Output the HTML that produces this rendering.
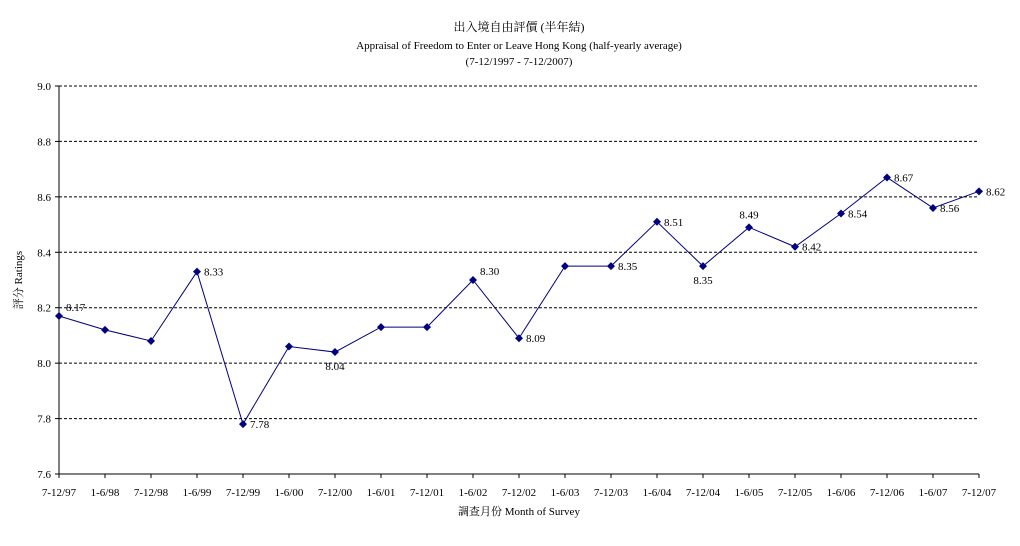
<!DOCTYPE html>
<html><head><meta charset="utf-8"><style>
body{margin:0;background:#fff;}
svg{display:block;font-family:"Liberation Serif","Noto Serif CJK SC","Noto Sans CJK TC",serif;}
</style></head><body>
<svg id="chart" width="1020" height="546" viewBox="0 0 1020 546">
<text x="519" y="31" font-size="12" text-anchor="middle">出入境自由評價 (半年結)</text>
<text x="519" y="49" font-size="11" text-anchor="middle">Appraisal of Freedom to Enter or Leave Hong Kong (half-yearly average)</text>
<text x="519" y="65" font-size="11" text-anchor="middle">(7-12/1997 - 7-12/2007)</text>
<text transform="translate(22,280) rotate(-90)" font-size="11" text-anchor="middle">評分 Ratings</text>
<text x="519" y="515" font-size="11" text-anchor="middle">調查月份 Month of Survey</text>
<g id="grid"></g><g id="axes"></g><g id="series"></g>
</svg>
<script>
const categories=["7-12/97","1-6/98","7-12/98","1-6/99","7-12/99","1-6/00","7-12/00","1-6/01","7-12/01","1-6/02","7-12/02","1-6/03","7-12/03","1-6/04","7-12/04","1-6/05","7-12/05","1-6/06","7-12/06","1-6/07","7-12/07"];
const ratings=[8.17,8.12,8.08,8.33,7.78,8.06,8.04,8.13,8.13,8.30,8.09,8.35,8.35,8.51,8.35,8.49,8.42,8.54,8.67,8.56,8.62];
const pointLabels=["8.17",null,null,"8.33","7.78",null,"8.04",null,null,"8.30","8.09",null,"8.35","8.51","8.35","8.49","8.42","8.54","8.67","8.56","8.62"];
const labelSide=["tr",null,null,"r","r",null,"b",null,null,"tr","r",null,"r","r","b","t","r","r","r","r","r"];
const yTicks=[7.6,7.8,8.0,8.2,8.4,8.6,8.8,9.0];
const NS="http://www.w3.org/2000/svg";
const L=59,R=979,T=86,B=474,yMin=7.6,yMax=9.0;
const x=i=>L+i*(R-L)/(categories.length-1);
const y=v=>B-(v-yMin)/(yMax-yMin)*(B-T);
function mk(tag,attrs,parent,txt){const e=document.createElementNS(NS,tag);for(const k in attrs)e.setAttribute(k,attrs[k]);if(txt!=null)e.textContent=txt;parent.appendChild(e);return e;}
const grid=document.getElementById('grid'),axes=document.getElementById('axes'),ser=document.getElementById('series');
yTicks.forEach(t=>{
 if(t>yMin){const g=mk('line',{x1:L,x2:R,y1:y(t),y2:y(t),stroke:'#000','stroke-dasharray':'3,2','stroke-width':1},grid);
 
 }
 const tl=mk('text',{x:L-8,y:y(t)+4,'font-size':11,'text-anchor':'end'},axes,t.toFixed(1));
 
 
 mk('line',{x1:L-4,x2:L,y1:y(t),y2:y(t),stroke:'#000'},axes);
});
const ya=mk('line',{x1:L,x2:L,y1:T,y2:B,stroke:'#000'},axes);


const xa=mk('line',{x1:L,x2:R,y1:B,y2:B,stroke:'#000'},axes);


categories.forEach((c,i)=>{
 mk('line',{x1:x(i),x2:x(i),y1:B,y2:B+4,stroke:'#000'},axes);
 const t=mk('text',{x:x(i),y:B+22,'font-size':11,'text-anchor':'middle'},axes,c);
 
 
});
const pl=mk('polyline',{points:ratings.map((v,i)=>x(i)+','+y(v)).join(' '),fill:'none',stroke:'#000080','stroke-width':1},ser);


ratings.forEach((v,i)=>{
 const px=x(i),py=y(v);
 const m=mk('polygon',{points:`${px},${py-4} ${px+4},${py} ${px},${py+4} ${px-4},${py}`,fill:'#000080'},ser);
 
 
 if(pointLabels[i]){
  const s=labelSide[i];let lx=px+7,ly=py+4,a='start';
  if(s==='b'){lx=px;ly=py+18;a='middle';}
  else if(s==='t'){lx=px;ly=py-9;a='middle';}
  else if(s==='tr'){lx=px+7;ly=py-5;}
  const t=mk('text',{x:lx,y:ly,'font-size':11,'text-anchor':a},ser,pointLabels[i]);
  
  
 }
});
</script>
</body></html>
